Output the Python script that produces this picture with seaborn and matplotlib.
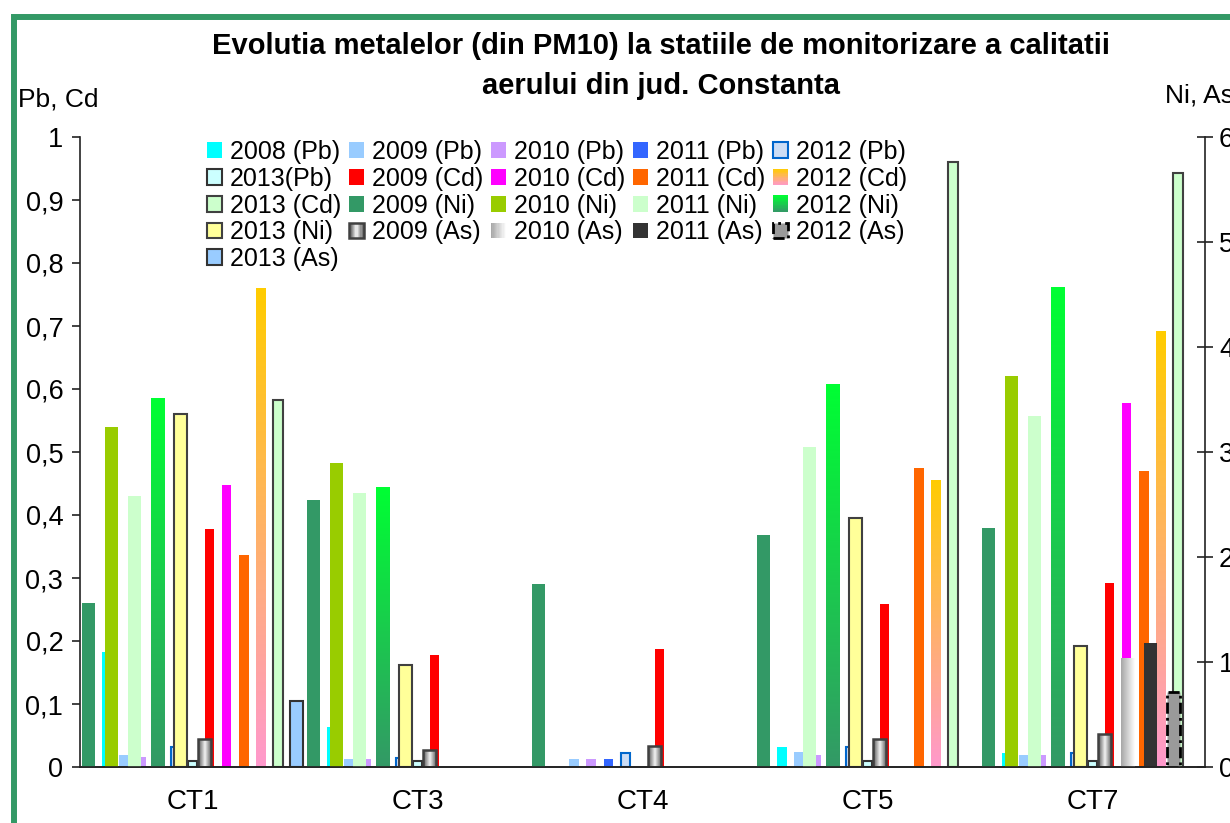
import numpy as np
import pandas as pd
import matplotlib
matplotlib.use('Agg')
import matplotlib.pyplot as plt
import seaborn as sns
from matplotlib.patches import Patch, Rectangle
from matplotlib.colors import LinearSegmentedColormap
from matplotlib.legend_handler import HandlerBase

nan = np.nan
stations = ['CT1', 'CT3', 'CT4', 'CT5', 'CT7']

# Pb, Cd -> left axis
pb_2008 = [0.182, 0.064, nan, 0.032, 0.023]
pb_2009 = [0.019, 0.013, 0.013, 0.024, 0.019]
pb_2010 = [0.016, 0.013, 0.013, 0.019, 0.019]
pb_2011 = [nan, nan, 0.012, nan, nan]
pb_2012 = [0.032, 0.014, 0.023, 0.032, 0.023]
pb_2013 = [0.010, 0.010, nan, 0.010, 0.010]
cd_2009 = [0.378, 0.178, 0.188, 0.258, 0.292]
cd_2010 = [0.448, nan, nan, nan, 0.578]
cd_2011 = [0.336, nan, nan, 0.475, 0.470]
cd_2012 = [0.760, nan, nan, 0.456, 0.692]
cd_2013 = [0.583, nan, nan, 0.960, 0.943]

# Ni, As -> right axis
ni_2009 = [1.56, 2.54, 1.74, 2.21, 2.28]
ni_2010 = [3.24, 2.90, nan, nan, 3.72]
ni_2011 = [2.58, 2.61, nan, 3.05, 3.34]
ni_2012 = [3.51, 2.67, nan, 3.65, 4.57]
ni_2013 = [3.36, 0.97, nan, 2.37, 1.15]
as_2009 = [0.27, 0.16, 0.20, 0.27, 0.31]
as_2010 = [nan, nan, nan, nan, 1.04]
as_2011 = [nan, nan, nan, nan, 1.18]
as_2012 = [nan, nan, nan, nan, 0.71]
as_2013 = [0.63, nan, nan, nan, nan]

left_series = {
    '2008 (Pb)': pb_2008, '2009 (Pb)': pb_2009, '2010 (Pb)': pb_2010,
    '2011 (Pb)': pb_2011, '2012 (Pb)': pb_2012, '2013(Pb)': pb_2013,
    '2009 (Cd)': cd_2009, '2010 (Cd)': cd_2010, '2011 (Cd)': cd_2011,
    '2012 (Cd)': cd_2012, '2013 (Cd)': cd_2013,
}
right_series = {
    '2009 (Ni)': ni_2009, '2010 (Ni)': ni_2010, '2011 (Ni)': ni_2011,
    '2012 (Ni)': ni_2012, '2013 (Ni)': ni_2013,
    '2009 (As)': as_2009, '2010 (As)': as_2010, '2011 (As)': as_2011,
    '2012 (As)': as_2012, '2013 (As)': as_2013,
}

# face, edge, linewidth, linestyle, gradient (colors, horizontal)
styles = {
    '2008 (Pb)': ('#00FFFF', 'none', 0, '-', None),
    '2009 (Pb)': ('#99CCFF', 'none', 0, '-', None),
    '2010 (Pb)': ('#CC99FF', 'none', 0, '-', None),
    '2011 (Pb)': ('#3366FF', 'none', 0, '-', None),
    '2012 (Pb)': ('#CCDDF5', '#0066CC', 1.5, '-', None),
    '2013(Pb)': ('#CCFFFF', '#333333', 1.5, '-', None),
    '2009 (Cd)': ('#FF0000', 'none', 0, '-', None),
    '2010 (Cd)': ('#FF00FF', 'none', 0, '-', None),
    '2011 (Cd)': ('#FF6600', 'none', 0, '-', None),
    '2012 (Cd)': ('#FFB380', 'none', 0, '-', (['#FF99CC', '#FFCC00'], False)),
    '2013 (Cd)': ('#CCFFCC', '#404040', 1.5, '-', None),
    '2009 (Ni)': ('#339966', 'none', 0, '-', None),
    '2010 (Ni)': ('#99CC00', 'none', 0, '-', None),
    '2011 (Ni)': ('#CCFFCC', 'none', 0, '-', None),
    '2012 (Ni)': ('#1ACC4D', 'none', 0, '-', (['#339966', '#00FF33'], False)),
    '2013 (Ni)': ('#FFFF99', '#404040', 1.5, '-', None),
    '2009 (As)': ('#B0B0B0', '#404040', 1.8, '-', (['#505050', '#F4F4F4', '#505050'], True)),
    '2010 (As)': ('#D8D8D8', 'none', 0, '-', (['#A6A6A6', '#FFFFFF'], True)),
    '2011 (As)': ('#333333', 'none', 0, '-', None),
    '2012 (As)': ('#9A9A9A', '#000000', 2.0, (0, (4, 1.5, 1, 1.5)), None),
    '2013 (As)': ('#99CCFF', '#333333', 1.5, '-', None),
}


class GradientHandler(HandlerBase):
    def __init__(self, colors, horizontal, edge='none', lw=0):
        super().__init__()
        self.colors = colors
        self.horizontal = horizontal
        self.edge = edge
        self.lw = lw

    def create_artists(self, legend, orig_handle, xdescent, ydescent, width,
                       height, fontsize, trans):
        cmap = LinearSegmentedColormap.from_list('g', self.colors)
        n = 12
        arts = []
        for i in range(n):
            c = cmap((i + 0.5) / n)
            if self.horizontal:
                r = Rectangle((-xdescent + width * i / n, -ydescent), width / n + 0.3,
                              height, facecolor=c, edgecolor='none', lw=0,
                              antialiased=False, transform=trans)
            else:
                r = Rectangle((-xdescent, -ydescent + height * i / n), width,
                              height / n + 0.3, facecolor=c, edgecolor='none', lw=0,
                              antialiased=False, transform=trans)
            arts.append(r)
        if self.edge != 'none':
            arts.append(Rectangle((-xdescent, -ydescent), width, height, fill=False,
                                  edgecolor=self.edge, lw=self.lw, transform=trans))
        return arts


def to_long(series):
    rows = []
    for name, vals in series.items():
        for st, v in zip(stations, vals):
            rows.append((st, name, v))
    return pd.DataFrame(rows, columns=['statie', 'serie', 'valoare'])


def gradient_fill(ax, rect, colors, horizontal):
    x, y = rect.get_x(), rect.get_y()
    w, h = rect.get_width(), rect.get_height()
    if not np.isfinite(h) or h == 0:
        return
    cmap = LinearSegmentedColormap.from_list('grad', colors)
    grad = np.linspace(0, 1, 128)
    img = grad.reshape(1, -1) if horizontal else grad.reshape(-1, 1)
    im = ax.imshow(img, cmap=cmap, extent=(x, x + w, y, y + h), origin='lower',
                   aspect='auto', interpolation='bilinear',
                   zorder=rect.get_zorder() - 0.001)
    im.set_clip_path(rect)
    rect.set_facecolor('none')


def draw_group(ax, series, width, gap):
    df = to_long(series)
    names = list(series)
    palette = {n: styles[n][0] for n in names}
    sns.barplot(data=df, x='statie', y='valoare', hue='serie', order=stations,
                hue_order=names, palette=palette, saturation=1, width=width,
                gap=gap, errorbar=None, legend=False, ax=ax)
    for name, cont in zip(names, ax.containers):
        face, edge, lw, ls, grad = styles[name]
        for rect in cont:
            rect.set_edgecolor(edge)
            rect.set_linewidth(lw)
            rect.set_linestyle(ls)
            if grad is not None:
                gradient_fill(ax, rect, grad[0], grad[1])


sns.set_theme(style='white', rc={'text.color': 'black', 'xtick.color': 'black',
                                 'ytick.color': 'black', 'axes.labelcolor': 'black'})
plt.rcParams['font.family'] = ['Liberation Sans', 'DejaVu Sans']

fig = plt.figure(figsize=(12.3, 8.23), dpi=100)
ax = fig.add_axes([80 / 1230, 56 / 823, 1125 / 1230, 630 / 823])
ax2 = ax.twinx()

draw_group(ax, left_series, 0.836, 0.445)
draw_group(ax2, right_series, 1.027, 0.437)

ax.set_xlim(-0.5, 4.5)
ax.set_ylim(0, 1)
ax2.set_ylim(0, 6)
for a in (ax, ax2):
    a.set_xlabel('')
    a.set_ylabel('')

yt = np.round(np.arange(0, 1.01, 0.1), 1)
ax.set_yticks(yt)
ax.set_yticklabels([('%g' % v).replace('.', ',') for v in yt])
ax2.set_yticks(range(7))
ax2.set_yticklabels([str(v) for v in range(7)])

ax.set_xticks(range(len(stations)))
ax.set_xticklabels(stations)
ax.set_xticks(np.arange(-0.5, len(stations), 1), minor=True)
ax.tick_params(axis='x', which='major', length=0, pad=16, labelsize=20)
ax.tick_params(axis='x', which='minor', direction='out', length=7, width=1.2, color='#222222')
ax.tick_params(axis='y', direction='out', length=6, width=1.2, color='#222222',
               labelsize=19.5, pad=6, left=True)
ax2.tick_params(axis='y', direction='inout', length=12, width=1.2, color='#222222',
                labelsize=19.5, pad=4, right=True)

for s in ['top', 'right']:
    ax.spines[s].set_visible(False)
for s in ['top', 'left']:
    ax2.spines[s].set_visible(False)
for a in (ax, ax2):
    for s in a.spines.values():
        s.set_color('#222222')
        s.set_linewidth(1.2)

fig.text(661 / 1230, 1 - 46 / 823,
         'Evolutia metalelor (din PM10) la statiile de monitorizare a calitatii',
         ha='center', va='center', fontsize=21, fontweight='bold')
fig.text(661 / 1230, 1 - 86 / 823, 'aerului din jud. Constanta',
         ha='center', va='center', fontsize=21, fontweight='bold')
fig.text(18 / 1230, 1 - 100 / 823, 'Pb, Cd', ha='left', va='center', fontsize=19)
fig.text(1165 / 1230, 1 - 96 / 823, 'Ni, As', ha='left', va='center', fontsize=19)

names_all = list(left_series) + list(right_series)
handles = []
hmap = {}
for n in names_all:
    face, edge, lw, ls, grad = styles[n]
    h = Patch(facecolor=face, edgecolor=edge, linewidth=lw, linestyle=ls, label=n)
    handles.append(h)
    if grad is not None:
        hmap[h] = GradientHandler(grad[0], grad[1], edge, lw)
# Excel fills the legend row by row, matplotlib column by column
ncol = 5
order = []
for c in range(ncol):
    order.extend(range(c, len(handles), ncol))
fig.legend([handles[i] for i in order], [names_all[i] for i in order], ncol=ncol,
           loc='upper left', bbox_to_anchor=(207 / 1230, 1 - 140 / 823),
           frameon=False, fontsize=18, handlelength=0.6, handleheight=0.6,
           handletextpad=0.3, columnspacing=0.33, labelspacing=0.11,
           borderpad=0, borderaxespad=0, handler_map=hmap)

# green chart border, cut off on the right and bottom like the screenshot
fig.patches.append(Rectangle((14 / 1230, -0.1), 1.5, 1 - 17 / 823 + 0.1,
                             transform=fig.transFigure, fill=False,
                             edgecolor='#339966', linewidth=4.3))

fig.savefig('out.png', dpi=100)
plt.close(fig)
